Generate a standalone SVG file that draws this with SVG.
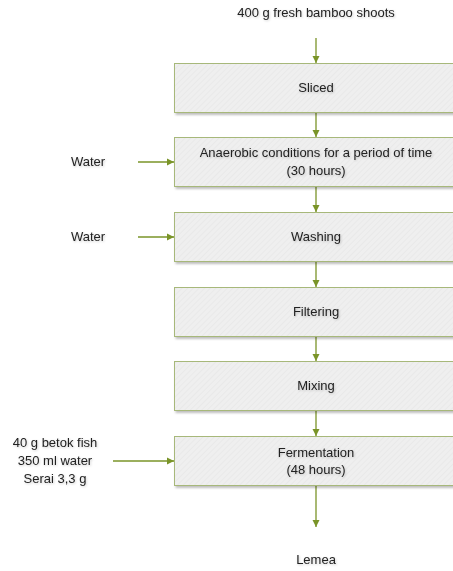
<svg xmlns="http://www.w3.org/2000/svg" width="453" height="571" viewBox="0 0 453 571">
<defs>
<pattern id="hatch" width="4" height="4" patternUnits="userSpaceOnUse" patternTransform="rotate(45)">
<rect width="4" height="4" fill="#efefef"/>
<line x1="0" y1="0" x2="0" y2="4" stroke="#e4e4e4" stroke-width="1"/>
</pattern>
<marker id="ah" markerWidth="8" markerHeight="8" refX="7" refY="4" orient="auto" markerUnits="userSpaceOnUse">
<path d="M0,0.5 L7,4 L0,7.5 Z" fill="#7a9428"/>
</marker>
<filter id="sh" x="-10%" y="-10%" width="130%" height="140%">
<feDropShadow dx="1.5" dy="2" stdDeviation="1" flood-color="#000" flood-opacity="0.25"/>
</filter>
<filter id="tsh" x="-10%" y="-30%" width="120%" height="160%">
<feDropShadow dx="0.8" dy="1" stdDeviation="0.8" flood-color="#000" flood-opacity="0.2"/>
</filter>
</defs>
<style>
.box{fill:url(#hatch);stroke:#a7b87a;stroke-width:1;filter:url(#sh)}
.t{font-family:"Liberation Sans",Arial,sans-serif;font-size:13px;fill:#222;text-anchor:middle;filter:url(#tsh)}
.c{stroke:#7a9428;stroke-width:1.3;fill:none;marker-end:url(#ah)}
</style>
<g id="connectors">
<line class="c" x1="316" y1="38" x2="316" y2="63"/>
<line class="c" x1="316" y1="112" x2="316" y2="137"/>
<line class="c" x1="316" y1="187" x2="316" y2="212"/>
<line class="c" x1="316" y1="262" x2="316" y2="287"/>
<line class="c" x1="316" y1="336" x2="316" y2="361"/>
<line class="c" x1="316" y1="410" x2="316" y2="436"/>
<line class="c" x1="316" y1="485" x2="316" y2="527"/>
<line class="c" x1="138" y1="162" x2="174" y2="162"/>
<line class="c" x1="138" y1="237" x2="174" y2="237"/>
<line class="c" x1="113" y1="461" x2="174" y2="461"/>
</g>
<g id="input"><text class="t" x="316" y="17">400 g fresh bamboo shoots</text></g>
<g id="sliced"><rect class="box" x="174.5" y="63.5" width="290" height="49"/><text class="t" x="316" y="92">Sliced</text></g>
<g id="anaerobic"><rect class="box" x="174.5" y="137.5" width="290" height="49"/><text class="t" x="316" y="157">Anaerobic conditions for a period of time</text><text class="t" x="316" y="175">(30 hours)</text></g>
<g id="washing"><rect class="box" x="174.5" y="212.5" width="290" height="49"/><text class="t" x="316" y="241">Washing</text></g>
<g id="filtering"><rect class="box" x="174.5" y="287.5" width="290" height="49"/><text class="t" x="316" y="316">Filtering</text></g>
<g id="mixing"><rect class="box" x="174.5" y="361.5" width="290" height="49"/><text class="t" x="316" y="390">Mixing</text></g>
<g id="fermentation"><rect class="box" x="174.5" y="436.5" width="290" height="49"/><text class="t" x="316" y="457">Fermentation</text><text class="t" x="316" y="474">(48 hours)</text></g>
<g id="water1"><text class="t" x="88" y="166">Water</text></g>
<g id="water2"><text class="t" x="88" y="241">Water</text></g>
<g id="additions"><text class="t" x="55" y="447">40 g betok fish</text><text class="t" x="55" y="465">350 ml water</text><text class="t" x="55" y="483">Serai 3,3 g</text></g>
<g id="lemea"><text class="t" x="316" y="564">Lemea</text></g>
</svg>
